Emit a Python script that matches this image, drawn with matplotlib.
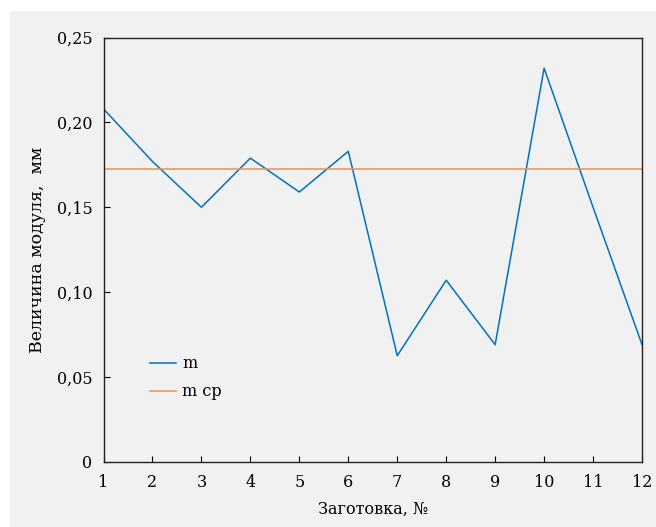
import matplotlib
matplotlib.use("Agg")
import matplotlib.pyplot as plt
from matplotlib.patches import Rectangle

# data
blanks = [1, 2, 3, 4, 5, 6, 7, 8, 9, 10, 11, 12]
m_values = [0.208, 0.177, 0.150, 0.179, 0.159, 0.183, 0.0625, 0.107, 0.069, 0.232, 0.150, 0.069]
m_mean = 0.1725
y_ticks = [0, 0.05, 0.10, 0.15, 0.20, 0.25]
y_tick_labels = ["0", "0,05", "0,10", "0,15", "0,20", "0,25"]

bg = "#f1f1f1"
plt.rcParams["font.family"] = ["DejaVu Serif"]
plt.rcParams["font.size"] = 11.5

fig = plt.figure(figsize=(6.56, 5.27), dpi=100)
fig.patch.set_facecolor("white")
fig.patches.append(Rectangle((10 / 656, 0), 1, 1 - 11 / 527, transform=fig.transFigure,
                             facecolor=bg, edgecolor="none", zorder=-10))

ax = fig.add_axes([0.1578, 0.1239, 0.8209, 0.8046])
ax.set_facecolor(bg)

ax.plot(blanks, m_values, color="#0072BD", lw=1.1, label="m")
ax.plot(blanks, [m_mean] * len(blanks), color="#F0904A", lw=1.1, label="m ср")

ax.set_xlim(1, 12)
ax.set_ylim(0, 0.25)
ax.set_xticks(blanks)
ax.set_yticks(y_ticks)
ax.set_yticklabels(y_tick_labels)
ax.tick_params(direction="in", length=4, width=0.8, top=False, right=False)
ax.tick_params(axis="x", pad=9)
ax.tick_params(axis="y", pad=8)

for s in ax.spines.values():
    s.set_color("#222222")
    s.set_linewidth(1.0)

ax.set_xlabel("Заготовка, №", labelpad=7)
ax.set_ylabel("Величина модуля,  мм", fontsize=12.5, labelpad=8)

ax.legend(loc="upper left", bbox_to_anchor=(0.06, 0.285), frameon=False,
          handlelength=1.6, handletextpad=0.4, labelspacing=0.7)

fig.savefig("out.png", dpi=100, facecolor=fig.get_facecolor())
